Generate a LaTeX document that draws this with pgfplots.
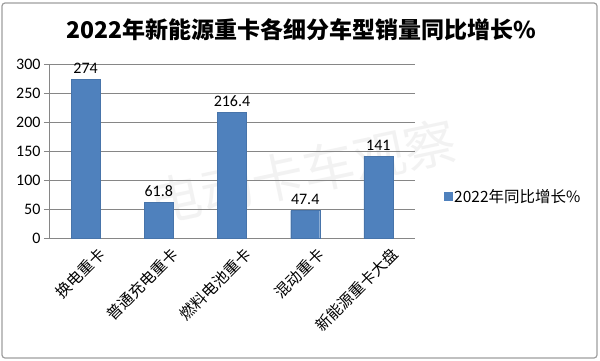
\documentclass[border=0pt]{standalone}
\usepackage{fontspec}
\setmainfont{Carlito}
\newfontfamily\cjk{Noto Sans CJK SC}
\usepackage{pgfplots}
\pgfplotsset{compat=1.18}
\definecolor{barblue}{HTML}{4F81BD}
\definecolor{gridgray}{HTML}{868686}
\begin{document}
\begin{tikzpicture}
\path (0pt,0pt) rectangle (600pt,360pt);
\draw[gridgray!80, line width=1.2pt, rounded corners=3pt] (2pt,2pt) rectangle (597pt,357pt);
\node[font=\cjk\bfseries\fontsize{23}{26}\selectfont] at (301pt,330pt) {2022年新能源重卡各细分车型销量同比增长\%};
\node[rotate=12, font=\cjk\fontsize{52}{56}\selectfont, text=gray, opacity=0.10] at (303pt,188pt) {电动卡车观察};
\begin{axis}[
  at={(49pt,122pt)}, anchor=south west, scale only axis,
  width=366pt, height=174pt,
  xmin=-0.5, xmax=4.5, ymin=0, ymax=300,
  ytick={0,50,...,300},
  axis x line*=bottom, axis y line*=left,
  axis line style={gridgray, line width=0.8pt, -},
  ymajorgrids, grid style={gridgray, line width=0.8pt},
  tick align=outside, major tick length=5pt,
  tick style={gridgray, line width=0.8pt},
  xtick={0,1,2,3,4},
  xticklabels={换电重卡,普通充电重卡,燃料电池重卡,混动重卡,新能源重卡大盘},
  x tick label style={font=\cjk\fontsize{15.5}{17}\selectfont, rotate=45, anchor=north east, inner sep=1pt, yshift=-9pt, xshift=7pt},
  x tick style={draw=none},
  extra x ticks={-0.5,0.5,1.5,2.5,3.5,4.5},
  extra x tick labels={},
  extra x tick style={tick style={gridgray, line width=0.8pt}, grid=none},
  y tick label style={font=\fontsize{16}{18}\selectfont},
  /pgf/number format/assume math mode=true,
  ybar, bar width=29pt,
  nodes near coords,
  nodes near coords style={font=\fontsize{16}{18}\selectfont, text=black, /pgf/number format/fixed, yshift=2pt},
  legend style={at={(1.07,0.24)}, anchor=west, draw=none, fill=none, font=\cjk\fontsize{15.5}{17}\selectfont},
  legend image code/.code={\fill[barblue] (0pt,-4pt) rectangle (8pt,4pt);},
]
\addplot[fill=barblue, draw=barblue!90!black] coordinates {(0,274) (1,61.8) (2,216.4) (3,47.4) (4,141)};
\addlegendentry{2022年同比增长\%}
\end{axis}
\end{tikzpicture}
\end{document}
